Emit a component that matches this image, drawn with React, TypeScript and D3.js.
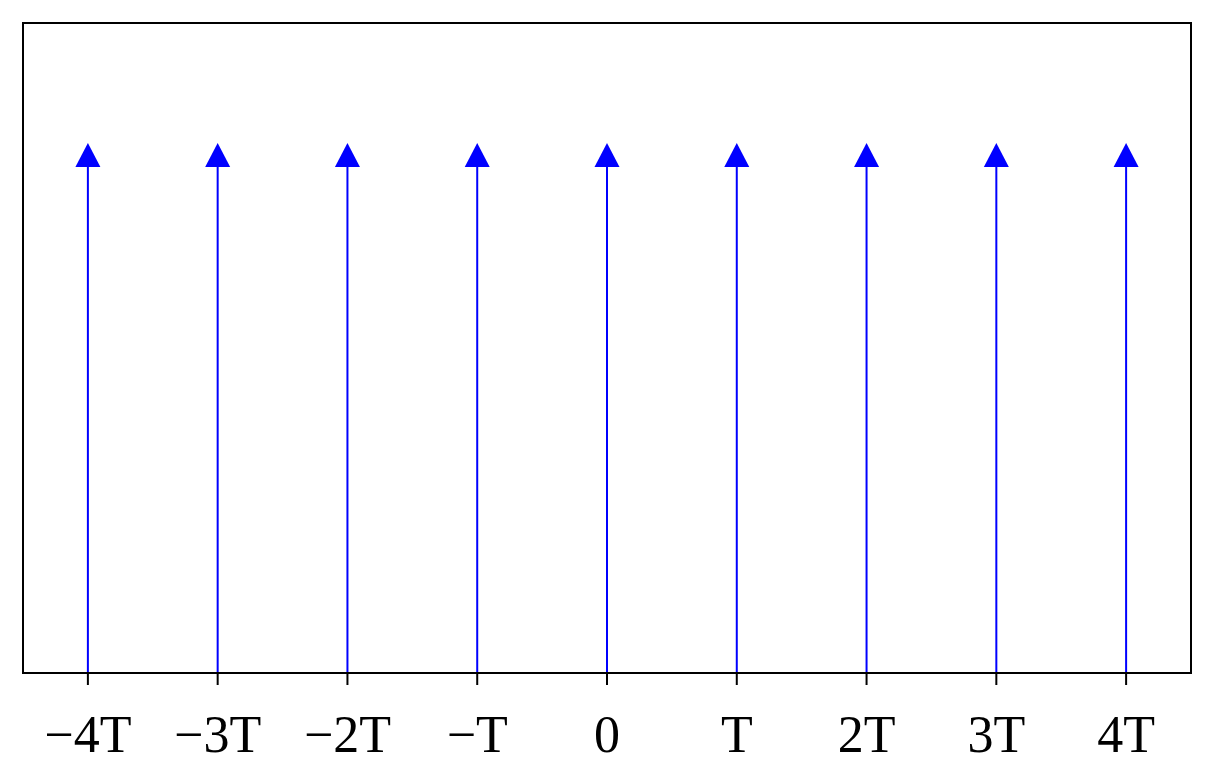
import React from "react";
import * as d3 from "d3";

const positions = [-4, -3, -2, -1, 0, 1, 2, 3, 4];
const tickLabels = ["\u22124T", "\u22123T", "\u22122T", "\u2212T", "0", "T", "2T", "3T", "4T"];
const amplitudes = [1, 1, 1, 1, 1, 1, 1, 1, 1];

const W = 1214, H = 771;
const m = { left: 23, right: 1191, top: 23, bottom: 673 };

export default function App() {
  const x = d3.scaleLinear().domain([-4.5, 4.5]).range([m.left, m.right]);
  const y = d3.scaleLinear().domain([0, 1.2264]).range([m.bottom, m.top]);
  const headLen = 24, headHalf = 12.5;
  return (
    <svg width={W} height={H} style={{ position: "absolute", left: 0, top: 0, background: "#fff" }}>
      {positions.map((p, i) => {
        const cx = x(p);
        const tip = y(amplitudes[i]);
        return (
          <g key={i}>
            <line x1={cx} x2={cx} y1={y(0)} y2={tip + headLen} stroke="#0000ff" strokeWidth={2} />
            <path d={`M${cx},${tip} L${cx - headHalf},${tip + headLen} L${cx + headHalf},${tip + headLen} Z`} fill="#0000ff" />
          </g>
        );
      })}
      <rect x={m.left} y={m.top} width={m.right - m.left} height={m.bottom - m.top} fill="none" stroke="#000" strokeWidth={2} />
      {positions.map((p, i) => (
        <g key={"t" + i}>
          <line x1={x(p)} x2={x(p)} y1={m.bottom} y2={m.bottom + 12} stroke="#000" strokeWidth={2} />
          <text x={x(p)} y={752} textAnchor="middle" fontFamily="Liberation Serif" fontSize={52} fill="#000">{tickLabels[i]}</text>
        </g>
      ))}
    </svg>
  );
}
